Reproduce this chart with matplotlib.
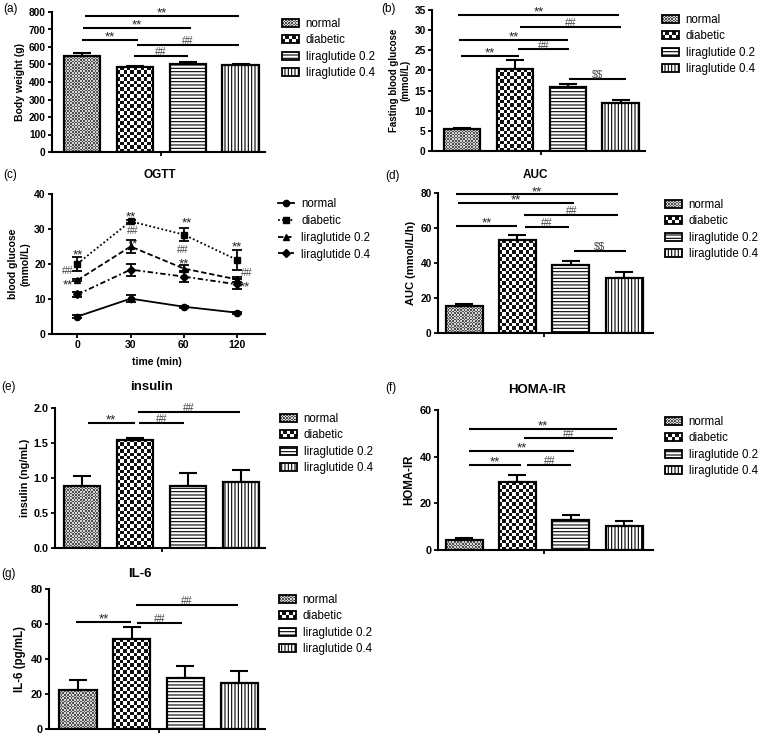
import numpy as np
import matplotlib
matplotlib.use('Agg')
import matplotlib.pyplot as plt
from matplotlib.colors import ListedColormap
from matplotlib.patches import Patch, Rectangle
from matplotlib.lines import Line2D
from matplotlib.legend_handler import HandlerBase

plt.rcParams['font.family'] = ['Liberation Sans', 'DejaVu Sans']
plt.rcParams['hatch.linewidth'] = 0.8
plt.rcParams['text.parse_math'] = False

W, H = 760, 736

groups = ['normal', 'diabetic', 'liraglutide 0.2', 'liraglutide 0.4']

# (a) body weight
bw_mean = [548, 485, 502, 498]
bw_err = [17, 6, 13, 7]
# (b) fasting blood glucose
fbg_mean = [5.4, 20.3, 15.9, 11.8]
fbg_err = [0.4, 2.3, 0.7, 0.9]
# (d) AUC
auc_mean = [15.3, 53.0, 38.6, 31.5]
auc_err = [1.0, 2.8, 2.4, 3.2]
# (e) insulin
ins_mean = [0.88, 1.55, 0.89, 0.94]
ins_err = [0.15, 0.02, 0.18, 0.17]
# (f) HOMA-IR
homa_mean = [4.3, 29.0, 12.9, 10.3]
homa_err = [0.7, 3.3, 2.1, 2.1]
# (g) IL-6
il6_mean = [22.3, 51.2, 29.1, 26.3]
il6_err = [5.5, 7.1, 7.1, 7.0]

# (c) OGTT
ogtt_times = ['0', '30', '60', '120']
ogtt_normal = [5.0, 10.1, 7.8, 6.1]
ogtt_normal_err = [0.3, 0.9, 0.3, 0.3]
ogtt_diabetic = [20.1, 32.2, 28.4, 21.2]
ogtt_diabetic_err = [2.0, 0.4, 1.8, 2.8]
ogtt_lira02 = [15.4, 25.0, 18.7, 15.6]
ogtt_lira02_err = [0.4, 1.8, 1.0, 0.8]
ogtt_lira04 = [11.3, 18.4, 16.4, 14.2]
ogtt_lira04_err = [0.6, 1.7, 1.5, 1.4]

# significance bars: (from, to, height, label)
sig_a = [(0.05, 2.97, 777, '**'), (0.02, 2.06, 711, '**'), (-0.01, 1.06, 641, '**'),
         (1.04, 2.97, 612, '##'), (0.99, 2.0, 548, '##')]
sig_b = [(-0.08, 2.97, 33.7, '**'), (1.1, 3.0, 30.85, '##'), (-0.05, 2.0, 27.5, '**'),
         (1.06, 2.03, 25.2, '##'), (-0.03, 1.07, 23.6, '**'), (2.02, 3.1, 17.9, '$$')]
sig_d = [(-0.16, 2.89, 79.2, '**'), (-0.12, 2.06, 74.3, '**'), (1.13, 2.89, 67.6, '##'),
         (-0.16, 1.0, 61.3, '**'), (1.15, 1.96, 60.8, '##'), (2.05, 3.03, 46.7, '$$')]
sig_e = [(0.11, 0.99, 1.786, '**'), (1.07, 1.92, 1.786, '##'), (1.06, 2.97, 1.94, '##')]
sig_f = [(0.1, 2.86, 51.9, '**'), (1.12, 2.79, 48.0, '##'), (0.09, 2.06, 42.4, '**'),
         (0.09, 1.07, 36.4, '**'), (1.18, 2.01, 36.4, '##')]
sig_g = [(-0.03, 0.99, 61.0, '**'), (1.1, 1.94, 60.6, '##'), (1.07, 2.97, 71.0, '##')]

# OGTT marks (x position, baseline y, label)
ogtt_marks = [(0, 21.6, '**'), (-0.18, 17.0, '##'), (-0.18, 12.9, '**'),
              (1.0, 32.5, '**'), (1.03, 28.7, '##'), (1.05, 24.7, '**'),
              (2.05, 30.6, '**'), (1.99, 23.2, '##'), (2.0, 19.1, '**'),
              (3.0, 23.9, '**'), (3.18, 16.7, '##'), (3.16, 12.5, '**')]

NORMAL_TEX = (1.6, '#505050', '#d4d4d4')
DIAB_TEX = (3.4, '#111111', '#ffffff')
STAR_FS, HASH_FS = 9.5, 7.5

fig = plt.figure(figsize=(W / 100, H / 100), dpi=100)


def place(l, t, r, b):
    return fig.add_axes([l / W, 1 - b / H, (r - l) / W, (b - t) / H])


def style_axes(ax):
    for s in ['top', 'right']:
        ax.spines[s].set_visible(False)
    for s in ['left', 'bottom']:
        ax.spines[s].set_linewidth(1.5)
    ax.tick_params(direction='out', length=3, width=1.3, pad=1.5)


def set_yticks(ax, ymax, step, fs, fmt):
    ticks = np.arange(0, ymax + step / 2, step)
    ax.set_yticks(ticks)
    ax.set_yticklabels([fmt.format(v) for v in ticks], fontweight='bold', fontsize=fs)


def mark_style(lab):
    if lab == '**':
        return dict(fontsize=STAR_FS, color='#222222')
    return dict(fontsize=HASH_FS, color='#444444')


def checker_fill(ax, bar, cell_px, dark, light):
    x0, y0 = bar.get_x(), bar.get_y()
    w, h = bar.get_width(), bar.get_height()
    (px0, py0), (px1, py1) = ax.transData.transform([(x0, y0), (x0 + w, y0 + h)])
    nx = max(1, int(round((px1 - px0) / cell_px)))
    ny = max(1, int(round((py1 - py0) / cell_px)))
    board = np.indices((ny, nx)).sum(axis=0) % 2
    im = ax.imshow(board, cmap=ListedColormap([light, dark]), extent=(x0, x0 + w, y0, y0 + h),
                   aspect='auto', interpolation='nearest', origin='lower', zorder=2.5)
    im.set_clip_path(bar)


class CheckerHandler(HandlerBase):
    def __init__(self, cell, dark, light):
        super().__init__()
        self.cell, self.dark, self.light = cell, dark, light

    def create_artists(self, legend, orig_handle, xdescent, ydescent, width, height, fontsize, trans):
        x0, y0 = -xdescent, -ydescent
        arts = [Rectangle((x0, y0), width, height, facecolor=self.light, edgecolor='none', transform=trans)]
        nx = max(1, int(round(width / self.cell)))
        ny = max(1, int(round(height / self.cell)))
        cw, ch = width / nx, height / ny
        for i in range(nx):
            for j in range(ny):
                if (i + j) % 2 == 0:
                    arts.append(Rectangle((x0 + i * cw, y0 + j * ch), cw, ch, facecolor=self.dark,
                                          edgecolor='none', transform=trans))
        arts.append(Rectangle((x0, y0), width, height, facecolor='none', edgecolor='black',
                              lw=1.3, transform=trans))
        return arts


def bar_legend(x, y, fs=8.3):
    h_norm = Patch(facecolor='none', edgecolor='black')
    h_diab = Patch(facecolor='none', edgecolor='black')
    h_l2 = Patch(facecolor='white', edgecolor='black', hatch='-----', lw=1.3)
    h_l4 = Patch(facecolor='white', edgecolor='black', hatch='|||||', lw=1.3)
    px = 72 / 100
    fig.legend([h_norm, h_diab, h_l2, h_l4], groups, loc='upper left',
               bbox_to_anchor=(x / W, 1 - y / H), frameon=False, fontsize=fs,
               handlelength=1.5, handleheight=0.7, handletextpad=0.55, labelspacing=0.39,
               borderpad=0, borderaxespad=0,
               handler_map={h_norm: CheckerHandler(NORMAL_TEX[0] * px, NORMAL_TEX[1], NORMAL_TEX[2]),
                            h_diab: CheckerHandler(DIAB_TEX[0] * px, DIAB_TEX[1], DIAB_TEX[2])})


def bar_panel(box, xlim, vals, errs, ymax, ystep, ylabel, sig, fs, lfs, fmt='{:g}'):
    ax = place(*box)
    style_axes(ax)
    x = np.arange(len(groups))
    ax.set_xlim(*xlim)
    ax.set_ylim(0, ymax)
    bars = ax.bar(x, vals, width=0.69, facecolor='white', edgecolor='black', linewidth=1.6, zorder=3)
    bars[0].set_facecolor('none')
    bars[1].set_facecolor('none')
    bars[2].set_hatch('-----')
    bars[3].set_hatch('|||||')
    checker_fill(ax, bars[0], *NORMAL_TEX)
    checker_fill(ax, bars[1], *DIAB_TEX)
    ax.errorbar(x, vals, yerr=[np.zeros(len(vals)), errs], fmt='none', ecolor='black',
                elinewidth=1.5, capsize=6.5, capthick=1.5, zorder=2)
    for x1, x2, yy, lab in sig:
        ax.plot([x1, x2], [yy, yy], color='black', lw=1.5, clip_on=False, solid_capstyle='butt')
        off = -2.6 if lab == '**' else -0.8
        ax.annotate(lab, ((x1 + x2) / 2, yy), xytext=(0, off), textcoords='offset points',
                    ha='center', va='bottom', annotation_clip=False, **mark_style(lab))
    ax.set_xticks([1.5])
    ax.set_xticklabels([])
    set_yticks(ax, ymax, ystep, fs, fmt)
    ax.set_ylabel(ylabel, fontsize=lfs, fontweight='bold', labelpad=3)
    ax.set_xlim(*xlim)
    ax.set_ylim(0, ymax)
    return ax


def fig_text(x, y, s, **kw):
    fig.text(x / W, 1 - y / H, s, ha='center', va='center', **kw)


# (a)
bar_panel((52, 12, 265, 152), (-0.57, 3.46), bw_mean, bw_err, 800, 100,
          'Body weight (g)', sig_a, 7.3, 7.5)
bar_legend(282, 18)
fig_text(10, 9, '(a)', fontsize=8.5)

# (b)
bar_panel((432, 10, 645, 151), (-0.57, 3.46), fbg_mean, fbg_err, 35, 5,
          'Fasting blood glucose\n(mmol/L)', sig_b, 7.3, 7)
bar_legend(662, 14)
fig_text(389, 9, '(b)', fontsize=8.5)

# (c) OGTT
ax = place(52, 194, 265, 334)
style_axes(ax)
t = np.arange(len(ogtt_times))
ogtt_series = [
    (ogtt_normal, ogtt_normal_err, 'o', '-', 'normal'),
    (ogtt_diabetic, ogtt_diabetic_err, 's', (0, (1, 1.3)), 'diabetic'),
    (ogtt_lira02, ogtt_lira02_err, '^', (0, (3, 1.5)), 'liraglutide 0.2'),
    (ogtt_lira04, ogtt_lira04_err, 'D', (0, (3, 1.5, 1, 1.5)), 'liraglutide 0.4'),
]
handles = []
for vals, errs, m, ls, lab in ogtt_series:
    ax.errorbar(t, vals, yerr=errs, marker=m, linestyle=ls, color='black', lw=1.3,
                ms=4.5 if m != 'D' else 4, capsize=3.5, capthick=1.3, elinewidth=1.3)
    handles.append(Line2D([], [], marker=m, linestyle=ls, color='black', lw=1.3,
                          ms=4.5 if m != 'D' else 4))
for xx, yy, lab in ogtt_marks:
    ax.text(xx, yy, lab, ha='center', va='baseline', **mark_style(lab))
ax.set_xlim(-0.48, 3.53)
ax.set_ylim(0, 40)
ax.set_xticks(t)
ax.set_xticklabels(ogtt_times, fontweight='bold', fontsize=7.5)
set_yticks(ax, 40, 10, 7.5, '{:g}')
ax.set_ylabel('blood glucose\n(mmol/L)', fontsize=7.5, fontweight='bold', labelpad=3)
fig.legend(handles, [s[4] for s in ogtt_series], loc='upper left',
           bbox_to_anchor=(278 / W, 1 - 198 / H), frameon=False, fontsize=8.3,
           handlelength=1.4, handletextpad=0.6, labelspacing=0.42, borderpad=0, borderaxespad=0)
fig_text(10, 175, '(c)', fontsize=8.5)
fig_text(160, 175, 'OGTT', fontsize=8.5, fontweight='bold')
fig_text(157, 362, 'time (min)', fontsize=7.5, fontweight='bold')

# (d) AUC
bar_panel((438, 193, 653, 333), (-0.49, 3.54), auc_mean, auc_err, 80, 20,
          'AUC (mmol/L/h)', sig_d, 7.3, 8)
bar_legend(665, 199)
fig_text(393, 176, '(d)', fontsize=8.5)
fig_text(535, 175, 'AUC', fontsize=8.5, fontweight='bold')

# (e) insulin
bar_panel((55, 408, 265, 548), (-0.51, 3.45), ins_mean, ins_err, 2.0, 0.5,
          'insulin (ng/mL)', sig_e, 7.8, 7.8, fmt='{:.1f}')
bar_legend(280, 413)
fig_text(9, 387, '(e)', fontsize=8.5)
fig_text(152, 387, 'insulin', fontsize=9.5, fontweight='bold')

# (f) HOMA-IR
bar_panel((438, 410, 653, 550), (-0.49, 3.54), homa_mean, homa_err, 60, 20,
          'HOMA-IR', sig_f, 7.8, 8.3)
bar_legend(665, 416)
fig_text(391, 388, '(f)', fontsize=8.5)
fig_text(537, 390, 'HOMA-IR', fontsize=9.5, fontweight='bold')

# (g) IL-6
bar_panel((49, 589, 265, 729), (-0.54, 3.48), il6_mean, il6_err, 80, 20,
          'IL-6 (pg/mL)', sig_g, 7.8, 8.3)
bar_legend(279, 594)
fig_text(9, 574, '(g)', fontsize=8.5)
fig_text(140, 574, 'IL-6', fontsize=9.5, fontweight='bold')

fig.savefig('out.png', dpi=100, facecolor='white')
